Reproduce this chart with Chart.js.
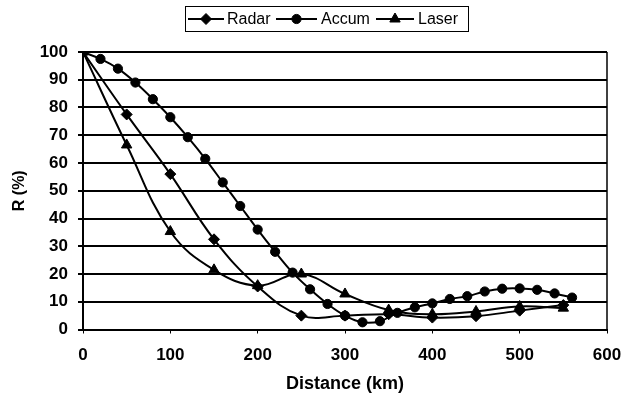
<!DOCTYPE html>
<html>
<head>
<meta charset="utf-8">
<script src="https://cdn.jsdelivr.net/npm/chart.js@4/dist/chart.umd.min.js"></script>
<style>
html,body{margin:0;padding:0;background:#fff;}
#wrap{width:624px;height:396px;position:relative;}
</style>
</head>
<body>
<div id="wrap"><canvas id="c" width="624" height="396"></canvas></div>
<script>
// ---- data ----
const seriesNames = ["Radar", "Accum", "Laser"];

const radarDistance = [0, 50, 100, 150, 200, 250, 300, 350, 400, 450, 500, 550];
const radarR        = [100, 77.5, 56, 32.5, 15.5, 5, 5, 5.5, 4.3, 4.8, 6.8, 8.8];

const accumDistance = [0, 20, 40, 60, 80, 100, 120, 140, 160, 180, 200, 220, 240, 260, 280,
                       300, 320, 340, 360, 380, 400, 420, 440, 460, 480, 500, 520, 540, 560];
const accumR        = [100, 97.5, 94, 89, 83, 76.5, 69.3, 61.5, 53, 44.5, 36, 28, 20.5, 14.5, 9.2,
                       5, 2.6, 3, 6, 8, 9.4, 11, 12, 13.7, 14.7, 14.8, 14.3, 13, 11.5];

const laserDistance = [0, 50, 100, 150, 200, 250, 300, 350, 400, 450, 500, 550];
const laserR        = [100, 66.5, 35.3, 21.5, 15.8, 20, 12.8, 7, 5.5, 6.5, 8.3, 7.7];

const xTicks = [0, 100, 200, 300, 400, 500, 600];
const yTicks = [0, 10, 20, 30, 40, 50, 60, 70, 80, 90, 100];

const xTitle = "Distance (km)";
const yTitle = "R (%)";

function pairs(xs, ys){ return xs.map((x,i)=>({x:x, y:ys[i]})); }

const styles = [
  {pointStyle:'rectRot', pointRadius:5.5},
  {pointStyle:'circle', pointRadius:4.6},
  {pointStyle:'triangle', pointRadius:6}
];

const dataSets = [pairs(radarDistance, radarR), pairs(accumDistance, accumR), pairs(laserDistance, laserR)];

const datasets = dataSets.map((d,i)=>({
  label: seriesNames[i],
  data: d,
  borderColor:'#000',
  backgroundColor:'#000',
  borderWidth:2,
  pointStyle: styles[i].pointStyle,
  pointRadius: styles[i].pointRadius,
  pointBorderWidth:1,
  pointBackgroundColor:'#000',
  pointBorderColor:'#000',
  tension:0.4,
  cubicInterpolationMode:'default',
  fill:false
}));

const legendPlugin = {
  id:'boxLegend',
  afterDraw(chart){
    const ctx = chart.ctx;
    ctx.save();
    ctx.strokeStyle = '#000';
    ctx.lineWidth = 1;
    ctx.strokeRect(185.5, 6.5, 283, 25);
    const y = 19;
    const items = [
      {l0:188, l1:224, tx:227},
      {l0:276, l1:317, tx:321},
      {l0:376, l1:414, tx:418}
    ];
    ctx.font = '16px "Liberation Sans", Arial, sans-serif';
    ctx.textBaseline = 'middle';
    ctx.textAlign = 'left';
    items.forEach((it,i)=>{
      ctx.strokeStyle = '#000';
      ctx.lineWidth = 2;
      ctx.beginPath(); ctx.moveTo(it.l0, y); ctx.lineTo(it.l1, y); ctx.stroke();
      ctx.fillStyle = '#000';
      ctx.lineWidth = 1;
      Chart.helpers.drawPoint(ctx, {pointStyle: styles[i].pointStyle, radius: styles[i].pointRadius, rotation:0, borderWidth:1}, (it.l0+it.l1)/2, y);
      ctx.fillStyle = '#000';
      ctx.fillText(seriesNames[i], it.tx, y+1);
    });
    const a = chart.chartArea;
    ctx.strokeStyle = '#000';
    ctx.lineWidth = 1.5;
    ctx.beginPath(); ctx.moveTo(a.right, a.top); ctx.lineTo(a.right, a.bottom); ctx.stroke();
    ctx.restore();
  }
};

const tickFont = {family:'"Liberation Sans", Arial, sans-serif', size:17, weight:'bold'};

new Chart(document.getElementById('c'), {
  type:'line',
  data:{datasets:datasets},
  options:{
    responsive:false,
    animation:false,
    devicePixelRatio:1,
    layout:{padding:{top:52, right:17, left:0, bottom:0}},
    plugins:{legend:{display:false}, tooltip:{enabled:false}},
    scales:{
      x:{
        type:'linear', min:0, max:600,
        afterBuildTicks(s){ s.ticks = xTicks.map(v=>({value:v})); },
        afterFit(s){ s.height = 66.5; s.paddingLeft = 0; s.paddingRight = 0; },
        ticks:{color:'#000', font:tickFont, padding:12, maxRotation:0, autoSkip:false},
        grid:{display:true, drawOnChartArea:false, drawTicks:true, tickLength:4, color:'#000', lineWidth:1},
        border:{display:true, color:'#000', width:2},
        title:{display:true, text:xTitle, color:'#000', font:{family:'"Liberation Sans", Arial, sans-serif', size:18, weight:'bold'}, padding:{top:0, bottom:1}}
      },
      y:{
        type:'linear', min:0, max:100,
        afterBuildTicks(s){ s.ticks = yTicks.map(v=>({value:v})); },
        afterFit(s){ s.width = 83; s.paddingTop = 0; s.paddingBottom = 0; },
        ticks:{color:'#000', font:tickFont, padding:10, autoSkip:false},
        grid:{display:true, drawOnChartArea:true, drawTicks:true, tickLength:5, color:'#000', lineWidth:2},
        border:{display:true, color:'#000', width:2},
        title:{display:true, text:yTitle, color:'#000', font:{family:'"Liberation Sans", Arial, sans-serif', size:16, weight:'bold'}, padding:{top:10, bottom:0}}
      }
    }
  },
  plugins:[legendPlugin]
});
</script>
</body>
</html>
